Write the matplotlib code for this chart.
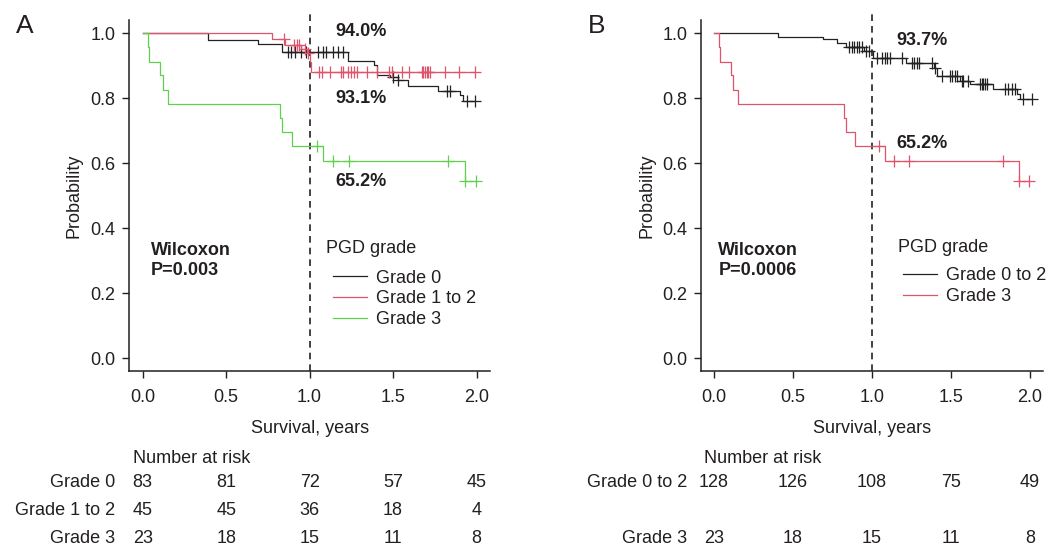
import matplotlib
matplotlib.use("Agg")
import matplotlib.pyplot as plt
import matplotlib.transforms as mtransforms
import numpy as np

plt.rcParams['font.family'] = ['Liberation Sans', 'DejaVu Sans']
plt.rcParams['font.size'] = 13

# ---- values ----
x_ticks = [0.0, 0.5, 1.0, 1.5, 2.0]
y_ticks = [0.0, 0.2, 0.4, 0.6, 0.8, 1.0]

# panel A, grade 0
a_g0_t = [0.393, 0.689, 0.832, 1.231, 1.385, 1.401, 1.48, 1.53, 1.59, 1.77, 1.90, 1.92]
a_g0_s = [0.979, 0.967, 0.943, 0.916, 0.902, 0.872, 0.865, 0.856, 0.839, 0.822, 0.810, 0.790]
a_g0_cens = [0.87, 0.89, 0.91, 0.95, 0.98, 1.05, 1.08, 1.10, 1.14, 1.17, 1.20,
             1.50, 1.53, 1.82, 1.84, 1.94, 1.99]

# panel A, grade 1 to 2
a_g12_t = [0.772, 0.852, 0.95, 0.985, 1.0, 1.01]
a_g12_s = [0.982, 0.964, 0.951, 0.938, 0.91, 0.88]
a_g12_cens = [0.845, 0.908, 0.922, 0.936, 0.97, 0.99, 1.056, 1.075, 1.121, 1.188,
              1.201, 1.231, 1.247, 1.265, 1.285, 1.341, 1.401, 1.477, 1.495, 1.551,
              1.595, 1.671, 1.680, 1.690, 1.701, 1.710, 1.720, 1.81, 1.894, 1.99]

# grade 3 (same group in both panels)
g3_t = [0.033, 0.04, 0.106, 0.12, 0.15, 0.82, 0.833, 0.895, 1.083, 1.93]
g3_s = [0.957, 0.913, 0.870, 0.826, 0.783, 0.739, 0.696, 0.652, 0.607, 0.546]
g3_cens = [1.043, 1.14, 1.236, 1.83, 1.93, 1.995]

# panel B, grade 0 to 2
b_g02_t = [0.403, 0.692, 0.78, 0.835, 0.95, 1.005, 1.215, 1.395, 1.41, 1.557,
           1.62, 1.768, 1.916, 1.937]
b_g02_s = [0.988, 0.982, 0.971, 0.959, 0.944, 0.923, 0.908, 0.893, 0.867, 0.852,
           0.844, 0.829, 0.814, 0.799]
b_g02_cens = [0.855, 0.872, 0.886, 0.903, 0.920, 0.937, 0.962, 0.979, 1.03, 1.061,
              1.082, 1.097, 1.114, 1.188, 1.251, 1.268, 1.283, 1.30, 1.379, 1.40,
              1.441, 1.494, 1.508, 1.525, 1.540, 1.567, 1.578, 1.61, 1.684, 1.695,
              1.705, 1.716, 1.726, 1.842, 1.863, 1.884, 1.905, 1.958, 2.01]

a_labels = ['Grade 0', 'Grade 1 to 2', 'Grade 3']
a_risk = [[83, 81, 72, 57, 45], [45, 45, 36, 18, 4], [23, 18, 15, 11, 8]]
b_labels = ['Grade 0 to 2', 'Grade 3']
b_risk = [[128, 126, 108, 75, 49], [23, 18, 15, 11, 8]]

a_pcts = ['94.0%', '93.1%', '65.2%']
b_pcts = ['93.7%', '65.2%']

TXT = '#231f20'
BLACK = '#222222'
RED = '#DF536B'
GREEN = '#61D04F'


def km(ax, t, s, cens, color):
    t = np.asarray(t)
    s = np.asarray(s)
    cens = np.asarray(cens)
    end = max(t.max(), cens.max())
    xs = np.concatenate([[0.0], t, [end]])
    ys = np.concatenate([[1.0], s, [s[-1]]])
    line, = ax.step(xs, ys, where='post', color=color, lw=0.9)
    idx = np.searchsorted(xs, cens, side='right') - 1
    ax.plot(cens, ys[idx], ls='none', marker='+', ms=8, mew=0.9, color=color)
    return line


def style(ax):
    ax.set_xlim(-0.08, 2.08)
    ax.set_ylim(-0.04, 1.04)
    ax.set_xticks(x_ticks)
    ax.set_xticklabels(['%.1f' % v for v in x_ticks])
    ax.set_yticks(y_ticks)
    ax.set_yticklabels(['%.1f' % v for v in y_ticks])
    for sp in ['top', 'right']:
        ax.spines[sp].set_visible(False)
    for sp in ['left', 'bottom']:
        ax.spines[sp].set_color(TXT)
        ax.spines[sp].set_linewidth(1.1)
    ax.tick_params(direction='out', length=5, width=1.0, color=TXT,
                   labelcolor=TXT, labelsize=13)
    ax.tick_params(axis='x', pad=8)
    ax.tick_params(axis='y', pad=5)
    ax.axvline(1.0, ymin=0.0, ymax=1.03, color=BLACK, lw=1.2, ls=(0, (4, 3)),
               clip_on=False)
    ax.set_ylabel('Probability', color=TXT, fontsize=13)
    ax.set_xlabel('Survival, years', color=TXT, fontsize=13)
    ax.xaxis.label.set_verticalalignment('center')
    ax.xaxis.set_label_coords(0.5, -0.163)


fig = plt.figure(figsize=(10.46, 5.48), dpi=100)
axA = fig.add_axes([0.1236, 0.323, 0.3448, 0.640])
axB = fig.add_axes([0.6706, 0.323, 0.3262, 0.640])

# ---- panel A ----
style(axA)
axA.yaxis.set_label_coords(-0.131, 0.5)
hA = [km(axA, a_g0_t, a_g0_s, a_g0_cens, BLACK),
      km(axA, a_g12_t, a_g12_s, a_g12_cens, RED),
      km(axA, g3_t, g3_s, g3_cens, GREEN)]
for txt, yy in zip(a_pcts, [1.005, 0.80, 0.543]):
    axA.text(1.157, yy, txt, fontweight='bold', color=TXT, va='center', fontsize=13)
axA.text(0.048, 0.330, 'Wilcoxon', fontweight='bold', color=TXT, va='center')
axA.text(0.048, 0.269, 'P=0.003', fontweight='bold', color=TXT, va='center')
axA.text(1.098, 0.336, 'PGD grade', color=TXT, va='center')
axA.legend(hA, a_labels, loc='upper left', bbox_to_anchor=(1.141, 0.272),
           bbox_transform=axA.transData, frameon=False, borderpad=0,
           borderaxespad=0, handlelength=1.85, handletextpad=0.5,
           labelspacing=0.2, fontsize=13, labelcolor=TXT)

# ---- panel B ----
style(axB)
axB.yaxis.set_label_coords(-0.136, 0.5)
hB = [km(axB, b_g02_t, b_g02_s, b_g02_cens, BLACK),
      km(axB, g3_t, g3_s, g3_cens, RED)]
for txt, yy in zip(b_pcts, [0.979, 0.660]):
    axB.text(1.152, yy, txt, fontweight='bold', color=TXT, va='center', fontsize=13)
axB.text(0.027, 0.330, 'Wilcoxon', fontweight='bold', color=TXT, va='center')
axB.text(0.027, 0.269, 'P=0.0006', fontweight='bold', color=TXT, va='center')
axB.text(1.167, 0.340, 'PGD grade', color=TXT, va='center')
axB.legend(hB, b_labels, loc='upper left', bbox_to_anchor=(1.198, 0.279),
           bbox_transform=axB.transData, frameon=False, borderpad=0,
           borderaxespad=0, handlelength=1.85, handletextpad=0.5,
           labelspacing=0.2, fontsize=13, labelcolor=TXT)

# ---- number at risk tables ----
trA = mtransforms.blended_transform_factory(axA.transData, fig.transFigure)
trB = mtransforms.blended_transform_factory(axB.transData, fig.transFigure)
fig.text(-0.058, 0.163, 'Number at risk', transform=trA, color=TXT, va='center')
for lab, row, yy in zip(a_labels, a_risk, [0.120, 0.0683, 0.0167]):
    fig.text(-0.166, yy, lab, transform=trA, ha='right', va='center', color=TXT)
    for xv, n in zip(x_ticks, row):
        fig.text(xv, yy, str(n), transform=trA, ha='center', va='center', color=TXT)

fig.text(-0.063, 0.163, 'Number at risk', transform=trB, color=TXT, va='center')
for lab, row, yy in zip(b_labels, b_risk, [0.120, 0.0167]):
    fig.text(-0.173, yy, lab, transform=trB, ha='right', va='center', color=TXT)
    for xv, n in zip(x_ticks, row):
        fig.text(xv, yy, str(n), transform=trB, ha='center', va='center', color=TXT)

fig.text(0.0234, 0.953, 'A', fontsize=19, color=TXT, ha='center', va='center')
fig.text(0.570, 0.953, 'B', fontsize=19, color=TXT, ha='center', va='center')

fig.savefig('out.png', dpi=100)
